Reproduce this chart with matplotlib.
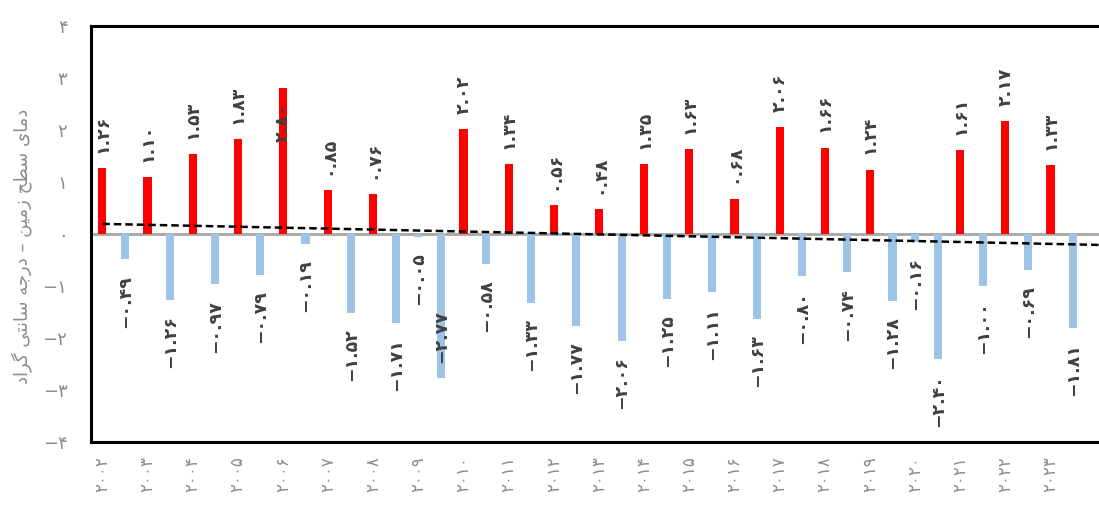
import numpy as np
import matplotlib.pyplot as plt

# years shown on the category axis (one label per pair of bars)
years = ["2002", "2003", "2004", "2005", "2006", "2007", "2008", "2009", "2010", "2011", "2012",
         "2013", "2014", "2015", "2016", "2017", "2018", "2019", "2020", "2021", "2022", "2023"]

# temperature anomaly values, two per year
values = [1.26, -0.49, 1.10, -1.26, 1.53, -0.97, 1.83, -0.79, 2.80, -0.19,
          0.85, -1.52, 0.76, -1.71, -0.05, -2.77, 2.02, -0.58, 1.34, -1.33,
          0.56, -1.77, 0.48, -2.06, 1.35, -1.25, 1.63, -1.11, 0.68, -1.63,
          2.06, -0.80, 1.66, -0.74, 1.24, -1.28, -0.16, -2.40, 1.61, -1.00,
          2.17, -0.69, 1.33, -1.81]

y_ticks = [-4, -3, -2, -1, 0, 1, 2, 3, 4]

# "دمای سطح زمین - درجه سانتی گراد" written in joined presentation forms, visual order
y_title = ("\uFEA9\uFE8D\uFEAE\uFB94 "
           "\uFEF0\uFE98\uFEE7\uFE8E\uFEB3 "
           "\uFEEA\uFE9F\uFEAD\uFEA9 \u2013 "
           "\uFEE6\uFEF4\uFEE3\uFEAF "
           "\uFEA2\uFEC4\uFEB3 "
           "\uFEEF\uFE8E\uFEE3\uFEA9")

FA = str.maketrans("0123456789-", "۰۱۲۳۴۵۶۷۸۹−")


def fa(s):
    return str(s).translate(FA)


RED = "#FF0000"
BLUE = "#9DC3E6"
GREY = "#8C8C8C"

plt.rcParams["font.family"] = ["DejaVu Sans"]

fig = plt.figure(figsize=(10.99, 5.05), dpi=100)
ax = fig.add_axes([91 / 1099, 63 / 505, 1016 / 1099, 416 / 505])

x = np.arange(len(values))
colors = [RED if v > 0 else BLUE for v in values]

ax.axhline(0, color="#A6A6A6", lw=2, zorder=1)
ax.bar(x, values, width=0.36, color=colors, zorder=2)

# linear trend of the series
k, b = np.polyfit(x, values, 1)
xt = np.array([0, len(values) + 1])
ax.plot(xt, k * xt + b, color="black", lw=1.8, linestyle=(0, (3, 1.6)), zorder=3)

for i, v in enumerate(values):
    txt = fa(f"{v:.2f}")
    if v > 0:
        inside = v > 2.5
    else:
        inside = v < -2.5
    up = (v > 0) != inside
    ax.annotate(txt, (i, v), xytext=(0, 11 if up else -11), textcoords="offset points",
                rotation=90, ha="center", va="bottom" if up else "top",
                fontsize=12.5, fontweight="bold", color="#404040", zorder=4)

ax.set_xlim(-0.5, 44.5)
ax.set_ylim(-4, 4)

ax.set_xticks(x[::2])
ax.set_xticklabels([fa(y) for y in years], rotation=90, color=GREY, fontsize=12)
ax.set_yticks(y_ticks)
ax.set_yticklabels([fa(t) for t in y_ticks], color=GREY, fontsize=13)
ax.tick_params(axis="both", length=0)
ax.tick_params(axis="y", pad=17)
ax.tick_params(axis="x", pad=10)

for side in ["left", "top", "bottom", "right"]:
    ax.spines[side].set_linewidth(2.2)
    ax.spines[side].set_color("black")

ax.set_ylabel(y_title, color=GREY, fontsize=13)
ax.yaxis.set_label_coords(-0.058, 0.47)

fig.savefig("out.png", dpi=100)
